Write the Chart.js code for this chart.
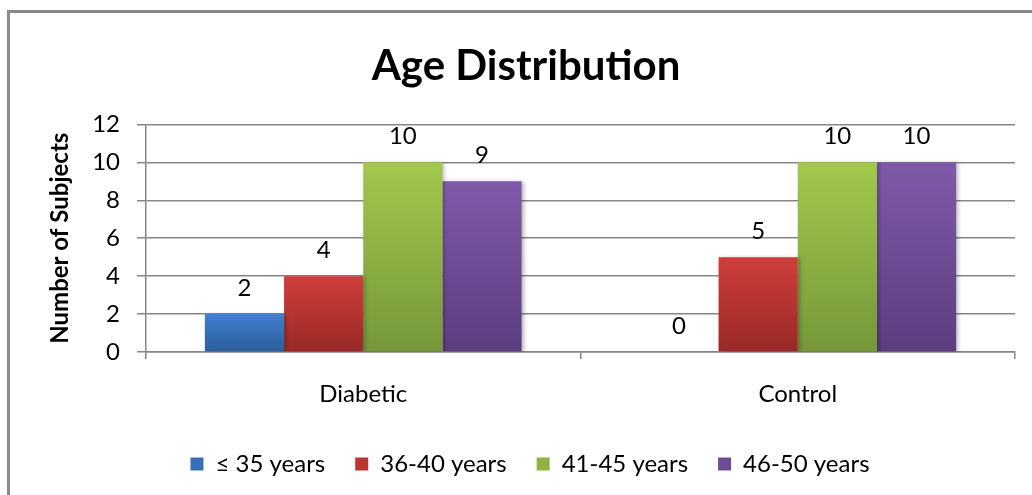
<!DOCTYPE html>
<html>
<head>
<meta charset="utf-8">
<title>Age Distribution</title>
<script src="https://cdn.jsdelivr.net/npm/chart.js@4.4.1/dist/chart.umd.min.js"></script>
<style>
  html, body { margin: 0; padding: 0; background: #ffffff; }
  #wrap { position: relative; width: 1032px; height: 495px; overflow: hidden; background: #ffffff; }
  #frame { position: absolute; left: 7px; top: 10px; width: 1100px; height: 600px;
           border-left: 3px solid #8a8a8a; border-top: 3px solid #8a8a8a; box-sizing: border-box; }
  #chart { position: absolute; left: 0; top: 0; }
</style>
</head>
<body>
<div id="wrap">
  <div id="frame"></div>
  <canvas id="chart" width="1032" height="495"></canvas>
</div>
<script>
// Groups on the category axis
const categories = ['Diabetic', 'Control'];

// Number of subjects per age band, one value per group
const ageUpTo35 = [2, 0];
const age36to40 = [4, 5];
const age41to45 = [10, 10];
const age46to50 = [9, 10];

const seriesLabels = ['\u2264 35 years', '36-40 years', '41-45 years', '46-50 years'];

// Value axis ticks
const yTicks = [0, 2, 4, 6, 8, 10, 12];

// Top / bottom shades for each band's vertical gradient
const shades = [
  ['#3f80d0', '#2c5d99'],
  ['#cf3e3a', '#982926'],
  ['#a2c84c', '#75973a'],
  ['#805aaa', '#5c3d7f']
];
const legendFill = ['#3670b8', '#bb3532', '#8fb443', '#6e4b96'];

const FONT = 'Lato, "Open Sans", "DejaVu Sans", sans-serif';

function barGradient(seriesIndex) {
  return function (ctx) {
    const [top, bottom] = shades[seriesIndex];
    if (ctx.type !== 'data') return top;
    const chart = ctx.chart;
    const y = chart.scales && chart.scales.y;
    if (!y) return top;
    const y0 = y.getPixelForValue(ctx.raw);
    const y1 = y.getPixelForValue(0);
    if (!isFinite(y0) || !isFinite(y1) || Math.abs(y1 - y0) < 1) return top;
    const g = chart.ctx.createLinearGradient(0, y0, 0, y1);
    g.addColorStop(0, top);
    g.addColorStop(1, bottom);
    return g;
  };
}

// Soft drop shadow behind the bars, then each bar's value written above it
const barDecor = {
  id: 'barDecor',
  afterLayout(chart) {
    // nudge the legend row slightly to the right
    chart.legend.left += 4;
    chart.legend.right += 4;
  },
  beforeDatasetsDraw(chart) {
    const c = chart.ctx;
    c.save();
    c.shadowColor = 'rgba(0, 0, 0, 0.28)';
    c.shadowBlur = 4;
    c.shadowOffsetX = 2;
    c.shadowOffsetY = 1;
  },
  afterDatasetsDraw(chart) {
    const c = chart.ctx;
    c.restore();
    c.save();
    c.font = '24px ' + FONT;
    c.fillStyle = '#000000';
    c.textAlign = 'center';
    c.textBaseline = 'middle';
    chart.data.datasets.forEach((ds, di) => {
      const meta = chart.getDatasetMeta(di);
      meta.data.forEach((el, i) => {
        c.fillText(String(ds.data[i]), el.x, el.y - 26);
      });
    });
    c.restore();
  }
};

const seriesData = [ageUpTo35, age36to40, age41to45, age46to50];

new Chart(document.getElementById('chart'), {
  type: 'bar',
  data: {
    labels: categories,
    datasets: seriesData.map((vals, i) => ({
      label: seriesLabels[i],
      data: vals,
      backgroundColor: barGradient(i),
      borderWidth: 0,
      categoryPercentage: 0.729,
      barPercentage: 1.0
    }))
  },
  options: {
    responsive: false,
    animation: false,
    devicePixelRatio: 1,
    layout: { padding: { left: 37, right: 17, top: 0, bottom: 9 } },
    plugins: {
      title: {
        display: true,
        text: 'Age Distribution',
        color: '#000000',
        font: { family: FONT, size: 42, weight: 'bold', lineHeight: 1.2 },
        padding: { top: 41, bottom: 33 }
      },
      legend: {
        position: 'bottom',
        labels: {
          color: '#000000',
          font: { family: FONT, size: 24 },
          boxWidth: 13,
          boxHeight: 13,
          padding: 30,
          generateLabels(chart) {
            return chart.data.datasets.map((ds, i) => ({
              text: ds.label,
              fillStyle: legendFill[i],
              strokeStyle: legendFill[i],
              lineWidth: 0,
              hidden: false,
              datasetIndex: i
            }));
          }
        }
      },
      tooltip: { enabled: false }
    },
    scales: {
      x: {
        offset: true,
        afterFit(scale) { scale.height = 70; },
        grid: {
          offset: true,
          drawOnChartArea: false,
          drawTicks: true,
          tickLength: 7,
          color: '#868686',
          lineWidth: 1.5
        },
        border: { display: true, color: '#868686', width: 1.5 },
        ticks: {
          color: '#000000',
          font: { family: FONT, size: 24 },
          padding: 21,
          maxRotation: 0
        }
      },
      y: {
        min: 0,
        max: 12,
        afterFit(scale) { scale.width = 109; },
        afterBuildTicks(scale) { scale.ticks = yTicks.map(v => ({ value: v })); },
        grid: {
          color: '#868686',
          lineWidth: 1.5,
          drawTicks: true,
          tickLength: 9
        },
        border: { display: true, color: '#868686', width: 1.5 },
        ticks: {
          color: '#000000',
          font: { family: FONT, size: 24 },
          padding: 17
        },
        title: {
          display: true,
          text: 'Number of Subjects',
          color: '#000000',
          font: { family: FONT, size: 24, weight: 'bold', lineHeight: 1.2 },
          padding: { top: 9, bottom: 0 }
        }
      }
    }
  },
  plugins: [barDecor]
});
</script>
</body>
</html>
